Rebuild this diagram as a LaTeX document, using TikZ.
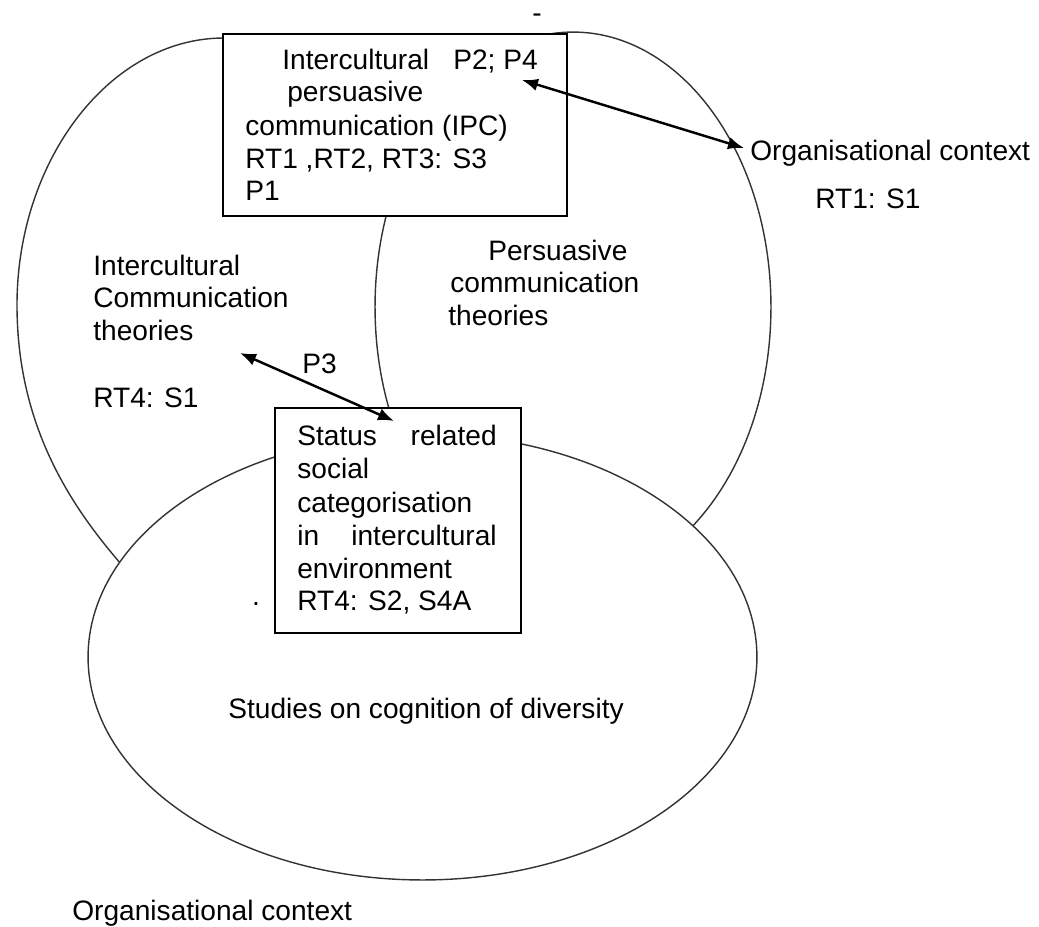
\documentclass[tikz,border=0pt]{standalone}
\usepackage{fontspec}
\setmainfont{Liberation Sans}
\usetikzlibrary{arrows.meta}

\tikzset{
  oval/.style={draw=black!80, line width=0.8pt},
  box/.style={draw=black, line width=1.1pt, fill=white, inner sep=0pt},
  lbl/.style={font=\fontsize{16}{19}\selectfont, inner sep=0pt, anchor=base west},
  lblr/.style={lbl, anchor=base east},
  link/.style={line width=1.4pt, {Latex[length=0.32cm,width=0.25cm]}-{Latex[length=0.32cm,width=0.25cm]}}
}

\begin{document}
\begin{tikzpicture}[x=0.02cm, y=-0.02cm]
\useasboundingbox (0,0) rectangle (1039,927);
\fill[white] (0,0) rectangle (1039,927);

% Intercultural communication theories: visible outline of the left region
\draw[oval] (224,38) .. controls (110,38) and (17,160) .. (17,305)
                     .. controls (17,425) and (70,505) .. (121,564);

% Persuasive communication theories
\draw[oval, fill=white] (573,307) ellipse [x radius=3.96cm, y radius=5.5cm];

% Studies on cognition of diversity
\draw[oval, fill=white] (422.5,657) ellipse [x radius=6.69cm, y radius=4.46cm];

% Boxes
\node[box, minimum width=6.88cm, minimum height=3.64cm, anchor=north west] (ipcBox) at (222,33) {};
\node[box, minimum width=4.92cm, minimum height=4.5cm, anchor=north west] (srBox) at (274,407) {};

% Text of the upper box
\node[lbl] (ipc1) at (282,69) {Intercultural};
\node[lbl] (p24) at (453,69) {P2; P4};
\node[lbl] (ipc2) at (287,101) {persuasive};
\node[lbl] (ipc3) at (245,135) {communication (IPC)};
\node[lbl] (ipc4) at (245,168) {RT1 ,RT2, RT3: S3};
\node[lbl] (ipc5) at (245,200) {P1};

% Text of the lower box
\node[lbl] (sr1a) at (297,445) {Status};
\node[lblr] (sr1b) at (497,445) {related};
\node[lbl] (sr2) at (297,478) {social};
\node[lbl] (sr3) at (297,512) {categorisation};
\node[lbl] (sr4a) at (297,545) {in};
\node[lblr] (sr4b) at (497,545) {intercultural};
\node[lbl] (sr5) at (297,578) {environment};
\node[lbl] (sr6) at (297,610) {RT4: S2, S4A};

% Region labels
\node[lbl] (ic1) at (93,275) {Intercultural};
\node[lbl] (ic2) at (93,307) {Communication};
\node[lbl] (ic3) at (93,340) {theories};
\node[lbl] (ic4) at (93,407) {RT4: S1};

\node[lbl] (pc1) at (488,260) {Persuasive};
\node[lbl] (pc2) at (450,292) {communication};
\node[lbl] (pc3) at (448,325) {theories};

\node[lbl] (p3) at (302,373) {P3};

\node[lbl] (org1) at (750,160) {Organisational context};
\node[lbl] (org1b) at (815,208) {RT1: S1};

\node[lbl] (study) at (228,718) {Studies on cognition of diversity};
\node[lbl] (org2) at (72,920) {Organisational context};

% Stray marks
\node[font=\fontsize{16}{19}\selectfont, inner sep=0pt, anchor=base] (dash) at (537,22) {-};
\node[font=\fontsize{16}{19}\selectfont, inner sep=0pt, anchor=base] (dot) at (256,605) {.};

% Connectors
\coordinate (ipcEnd) at (522,80);
\coordinate (orgEnd) at (744,148);
\coordinate (icEnd) at (240,353);
\coordinate (srEnd) at (394,421);
\draw[link] (ipcEnd) -- (orgEnd);
\draw[link] (icEnd) -- (srEnd);
\end{tikzpicture}
\end{document}
